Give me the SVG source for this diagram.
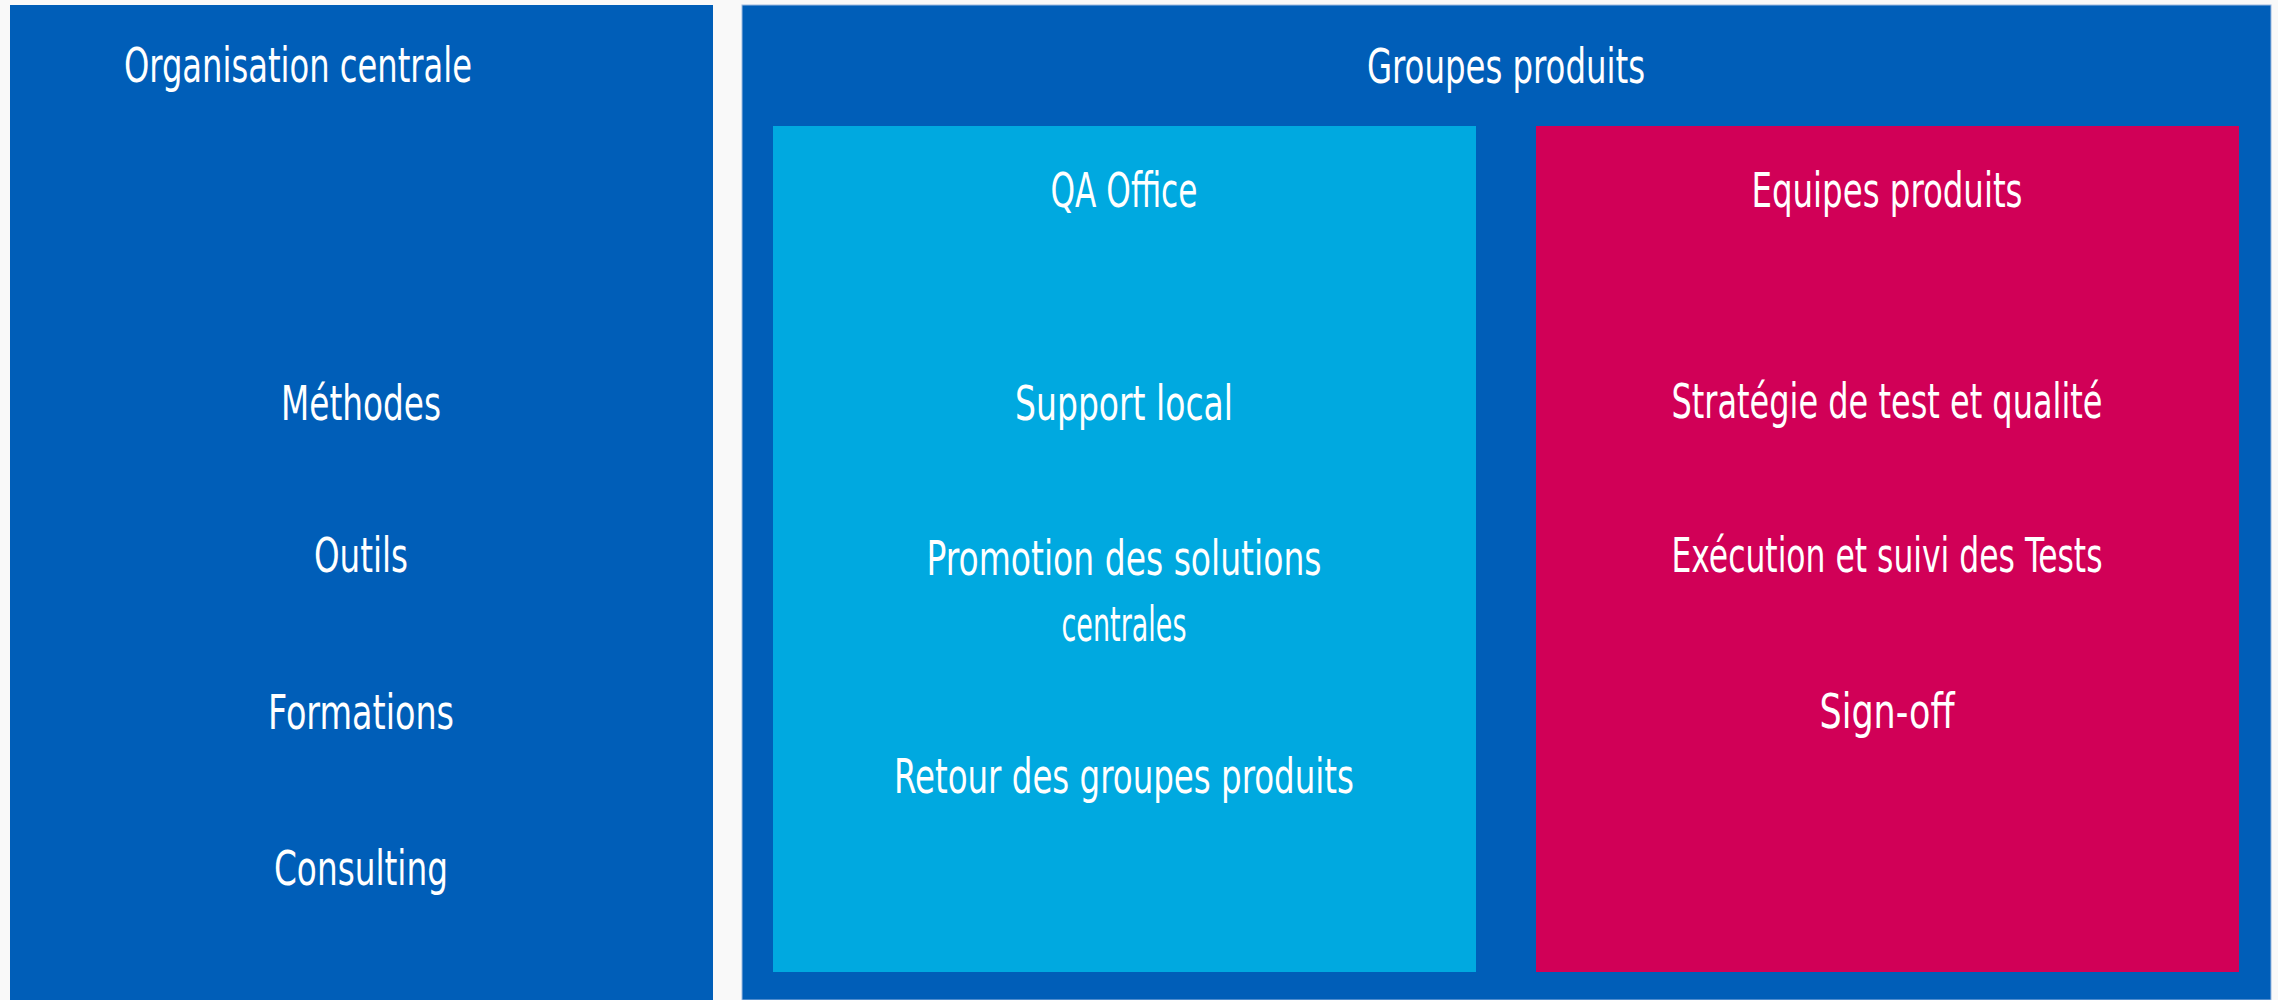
<svg xmlns="http://www.w3.org/2000/svg" width="2278" height="1000" viewBox="0 0 2278 1000">
<style>
.t{font-family:"Liberation Sans Narrow","DejaVu Sans Condensed","Liberation Sans",sans-serif;font-size:48px;fill:#ffffff;text-anchor:middle}
.dark{fill:#005EB8}
.light{fill:#00A9E0}
.mag{fill:#D10057}
</style>
<rect x="0" y="0" width="2278" height="1000" fill="#F9F9F9"/>
<g id="organisation-centrale">
<rect class="dark" x="10" y="5" width="703" height="995"/>
<text class="t" x="298" y="82" textLength="348" lengthAdjust="spacingAndGlyphs">Organisation centrale</text>
<text class="t" x="361" y="420" textLength="160" lengthAdjust="spacingAndGlyphs">Méthodes</text>
<text class="t" x="361" y="572" textLength="94" lengthAdjust="spacingAndGlyphs">Outils</text>
<text class="t" x="361" y="729" textLength="186" lengthAdjust="spacingAndGlyphs">Formations</text>
<text class="t" x="361" y="885" textLength="174" lengthAdjust="spacingAndGlyphs">Consulting</text>
</g>
<g id="groupes-produits">
<rect class="dark" x="742" y="5" width="1529" height="995" stroke="#9DB9E0" stroke-width="1"/>
<text class="t" x="1506" y="83" textLength="278" lengthAdjust="spacingAndGlyphs">Groupes produits</text>
</g>
<g id="qa-office">
<rect class="light" x="773" y="126" width="703" height="846"/>
<text class="t" x="1124" y="207" textLength="147" lengthAdjust="spacingAndGlyphs">QA Office</text>
<text class="t" x="1124" y="420" textLength="218" lengthAdjust="spacingAndGlyphs">Support local</text>
<text class="t" x="1124" y="575" textLength="395" lengthAdjust="spacingAndGlyphs">Promotion des solutions</text>
<text class="t" x="1124" y="641" textLength="125" lengthAdjust="spacingAndGlyphs">centrales</text>
<text class="t" x="1124" y="793" textLength="460" lengthAdjust="spacingAndGlyphs">Retour des groupes produits</text>
</g>
<g id="equipes-produits">
<rect class="mag" x="1536" y="126" width="703" height="846"/>
<text class="t" x="1887" y="207" textLength="271" lengthAdjust="spacingAndGlyphs">Equipes produits</text>
<text class="t" x="1887" y="418" textLength="431" lengthAdjust="spacingAndGlyphs">Stratégie de test et qualité</text>
<text class="t" x="1887" y="572" textLength="431" lengthAdjust="spacingAndGlyphs">Exécution et suivi des Tests</text>
<text class="t" x="1887" y="728" textLength="135" lengthAdjust="spacingAndGlyphs">Sign-off</text>
</g>
<g id="connectors"/>
</svg>
